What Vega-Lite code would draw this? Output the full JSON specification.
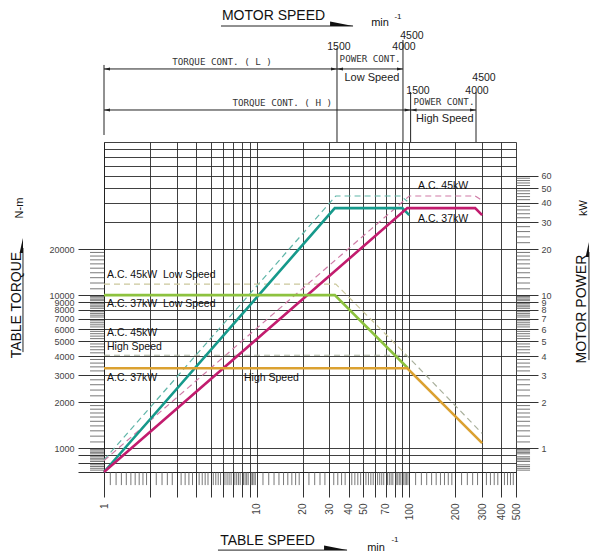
{
  "$schema": "https://vega.github.io/schema/vega-lite/v6.json",
  "width": 412,
  "height": 330,
  "autosize": "none",
  "padding": {"left": 104, "top": 142, "right": 75, "bottom": 84},
  "background": "white",
  "config": {
    "view": {"stroke": null},
    "font": "Liberation Sans",
    "axis": {"labelFont": "Liberation Sans", "labelFontSize": 10, "labelColor": "#444", "domainColor": "#222", "tickColor": "#333", "gridColor": "#2b2b2b", "gridOpacity": 1, "gridWidth": 0.9, "labelOverlap": false, "labelBound": false, "labelFlush": false}
  },
  "datasets": {
    "curves": [
      {"s": "teal37", "x": 1, "y": 700}, {"s": "teal37", "x": 32.5, "y": 37000}, {"s": "teal37", "x": 90, "y": 37000}, {"s": "teal37", "x": 100, "y": 33300},
      {"s": "mag37", "x": 1, "y": 700}, {"s": "mag37", "x": 97, "y": 37000}, {"s": "mag37", "x": 270, "y": 37000}, {"s": "mag37", "x": 300, "y": 33300},
      {"s": "green37", "x": 1, "y": 10000}, {"s": "green37", "x": 32.5, "y": 10000}, {"s": "green37", "x": 98, "y": 3330},
      {"s": "orange37", "x": 1, "y": 3330}, {"s": "orange37", "x": 97, "y": 3330}, {"s": "orange37", "x": 300, "y": 1080}
    ],
    "dashed": [
      {"s": "teal45", "x": 1, "y": 840}, {"s": "teal45", "x": 33, "y": 44400}, {"s": "teal45", "x": 88, "y": 44400}, {"s": "teal45", "x": 97, "y": 41000},
      {"s": "mag45", "x": 1, "y": 830}, {"s": "mag45", "x": 100, "y": 44400}, {"s": "mag45", "x": 270, "y": 44400}, {"s": "mag45", "x": 300, "y": 41500},
      {"s": "green45", "x": 1, "y": 11800}, {"s": "green45", "x": 33, "y": 11800}, {"s": "green45", "x": 96, "y": 4050},
      {"s": "orange45", "x": 1, "y": 4050}, {"s": "orange45", "x": 96, "y": 4050}, {"s": "orange45", "x": 300, "y": 1250}
    ],
    "segs": [
      {"x": 1, "y": 299900, "x2": 33.6, "y2": 299900},
      {"x": 33.6, "y": 299900, "x2": 90.9, "y2": 299900},
      {"x": 1, "y": 161800, "x2": 102, "y2": 161800},
      {"x": 102, "y": 161800, "x2": 273.5, "y2": 161800},
      {"x": 1, "y": 318500, "x2": 1, "y2": 111100},
      {"x": 33.6, "y": 411200, "x2": 33.6, "y2": 100000},
      {"x": 90.9, "y": 463700, "x2": 90.9, "y2": 100000},
      {"x": 102, "y": 212100, "x2": 102, "y2": 100000},
      {"x": 273.5, "y": 212100, "x2": 273.5, "y2": 100000},
      {"x": 5.84, "y": 572000, "x2": 42.8, "y2": 572000},
      {"x": 5.58, "y": 216.3, "x2": 39.1, "y2": 216.3},
      {"x": 0.2946, "y": 4245, "x2": 0.2946, "y2": 20320},
      {"x": 1503, "y": 3767, "x2": 1503, "y2": 19120}
    ],
    "arrowR": [{"x": 33.6, "y": 299900}, {"x": 90.9, "y": 299900}, {"x": 102, "y": 161800}, {"x": 273.5, "y": 161800}],
    "arrowL": [{"x": 1, "y": 299900}, {"x": 33.6, "y": 299900}, {"x": 1, "y": 161800}, {"x": 102, "y": 161800}],
    "wedgeH": [{"x": 42.8, "y": 572000}, {"x": 39.1, "y": 216.3}],
    "wedgeV": [{"x": 0.2946, "y": 23600}, {"x": 1503, "y": 22230}],
    "titlesH": [{"x": 12.9, "y": 665000, "t": "MOTOR SPEED"}, {"x": 11.78, "y": 247.7, "t": "TABLE SPEED"}],
    "titlesV": [{"x": 0.269, "y": 8612, "t": "TABLE TORQUE"}, {"x": 1352, "y": 8110, "t": "MOTOR POWER"}],
    "unitsV": [{"x": 0.282, "y": 37070, "t": "N-m"}, {"x": 1395, "y": 37070, "t": "kW"}],
    "mins": [{"x": 64.3, "y": 598000, "t": "min"}, {"x": 60.5, "y": 222.8, "t": "min"}],
    "sups": [{"x": 84.3, "y": 655000, "t": "-1"}, {"x": 80.6, "y": 251.3, "t": "-1"}],
    "rpm": [
      {"x": 34.6, "y": 417400, "t": "1500"}, {"x": 92.3, "y": 417400, "t": "4000"}, {"x": 104, "y": 492600, "t": "4500"},
      {"x": 114, "y": 215300, "t": "1500"}, {"x": 277.6, "y": 215300, "t": "4000"}, {"x": 308.5, "y": 261800, "t": "4500"}
    ],
    "speedTags": [{"x": 56.9, "y": 261800, "t": "Low Speed"}, {"x": 171, "y": 141300, "t": "High Speed"}],
    "mono": [
      {"x": 5.93, "y": 334600, "t": "TORQUE CONT. ( L )"}, {"x": 14.7, "y": 179800, "t": "TORQUE CONT. ( H )"},
      {"x": 55.3, "y": 348400, "t": "POWER CONT."}, {"x": 168.8, "y": 182500, "t": "POWER CONT."}
    ],
    "notes": [
      {"x": 1.046, "y": 13520, "t": "A.C. 45kW\u00a0 Low Speed"},
      {"x": 1.046, "y": 8750, "t": "A.C. 37kW\u00a0 Low Speed"},
      {"x": 1.046, "y": 5655, "t": "A.C. 45kW"},
      {"x": 1.046, "y": 4580, "t": "High Speed"},
      {"x": 1.046, "y": 2874, "t": "A.C. 37kW"},
      {"x": 8.26, "y": 2874, "t": "High Speed"},
      {"x": 114, "y": 51600, "t": "A.C. 45kW"},
      {"x": 114, "y": 31400, "t": "A.C. 37kW"}
    ],
    "bottomMinor": [
      {"v": 1.1}, {"v": 1.2}, {"v": 1.3}, {"v": 1.4}, {"v": 1.5}, {"v": 1.6}, {"v": 1.7}, {"v": 1.8}, {"v": 1.9},
      {"v": 2.2}, {"v": 2.4}, {"v": 2.6}, {"v": 2.8}, {"v": 3.2}, {"v": 3.4}, {"v": 3.6}, {"v": 3.8}, {"v": 4.2}, {"v": 4.4}, {"v": 4.6}, {"v": 4.8},
      {"v": 5.2}, {"v": 5.4}, {"v": 5.6}, {"v": 5.8}, {"v": 6.2}, {"v": 6.4}, {"v": 6.6}, {"v": 6.8}, {"v": 7.2}, {"v": 7.4}, {"v": 7.6}, {"v": 7.8},
      {"v": 8.2}, {"v": 8.4}, {"v": 8.6}, {"v": 8.8}, {"v": 9.2}, {"v": 9.4}, {"v": 9.6}, {"v": 9.8},
      {"v": 11}, {"v": 12}, {"v": 13}, {"v": 14}, {"v": 15}, {"v": 16}, {"v": 17}, {"v": 18}, {"v": 19},
      {"v": 22}, {"v": 24}, {"v": 26}, {"v": 28}, {"v": 32}, {"v": 34}, {"v": 36}, {"v": 38}, {"v": 42}, {"v": 44}, {"v": 46}, {"v": 48},
      {"v": 52}, {"v": 54}, {"v": 56}, {"v": 58}, {"v": 62}, {"v": 64}, {"v": 66}, {"v": 68}, {"v": 72}, {"v": 74}, {"v": 76}, {"v": 78},
      {"v": 82}, {"v": 84}, {"v": 86}, {"v": 88}, {"v": 92}, {"v": 94}, {"v": 96}, {"v": 98},
      {"v": 110}, {"v": 120}, {"v": 130}, {"v": 140}, {"v": 150}, {"v": 160}, {"v": 170}, {"v": 180}, {"v": 190},
      {"v": 220}, {"v": 240}, {"v": 260}, {"v": 280}, {"v": 320}, {"v": 340}, {"v": 360}, {"v": 380}, {"v": 420}, {"v": 440}, {"v": 460}, {"v": 480}
    ],
    "leftMinor": [
      {"v": 720}, {"v": 740}, {"v": 760}, {"v": 780}, {"v": 820}, {"v": 840}, {"v": 860}, {"v": 880}, {"v": 920}, {"v": 940}, {"v": 960}, {"v": 980},
      {"v": 1100}, {"v": 1200}, {"v": 1300}, {"v": 1400}, {"v": 1500}, {"v": 1600}, {"v": 1700}, {"v": 1800}, {"v": 1900},
      {"v": 2200}, {"v": 2400}, {"v": 2600}, {"v": 2800}, {"v": 3200}, {"v": 3400}, {"v": 3600}, {"v": 3800}, {"v": 4200}, {"v": 4400}, {"v": 4600}, {"v": 4800},
      {"v": 5200}, {"v": 5400}, {"v": 5600}, {"v": 5800}, {"v": 6200}, {"v": 6400}, {"v": 6600}, {"v": 6800}, {"v": 7200}, {"v": 7400}, {"v": 7600}, {"v": 7800},
      {"v": 8200}, {"v": 8400}, {"v": 8600}, {"v": 8800}, {"v": 9200}, {"v": 9400}, {"v": 9600}, {"v": 9800},
      {"v": 11000}, {"v": 12000}, {"v": 13000}, {"v": 14000}, {"v": 15000}, {"v": 16000}, {"v": 17000}, {"v": 18000}, {"v": 19000}
    ],
    "rightMinor": [
      {"v": 720}, {"v": 740}, {"v": 760}, {"v": 780}, {"v": 820}, {"v": 840}, {"v": 860}, {"v": 880}, {"v": 920}, {"v": 940}, {"v": 960}, {"v": 980},
      {"v": 1100}, {"v": 1200}, {"v": 1300}, {"v": 1400}, {"v": 1500}, {"v": 1600}, {"v": 1700}, {"v": 1800}, {"v": 1900},
      {"v": 2200}, {"v": 2400}, {"v": 2600}, {"v": 2800}, {"v": 3200}, {"v": 3400}, {"v": 3600}, {"v": 3800}, {"v": 4200}, {"v": 4400}, {"v": 4600}, {"v": 4800},
      {"v": 5200}, {"v": 5400}, {"v": 5600}, {"v": 5800}, {"v": 6200}, {"v": 6400}, {"v": 6600}, {"v": 6800}, {"v": 7200}, {"v": 7400}, {"v": 7600}, {"v": 7800},
      {"v": 8200}, {"v": 8400}, {"v": 8600}, {"v": 8800}, {"v": 9200}, {"v": 9400}, {"v": 9600}, {"v": 9800},
      {"v": 11000}, {"v": 12000}, {"v": 13000}, {"v": 14000}, {"v": 15000}, {"v": 16000}, {"v": 17000}, {"v": 18000}, {"v": 19000},
      {"v": 22000}, {"v": 24000}, {"v": 26000}, {"v": 28000}, {"v": 32000}, {"v": 34000}, {"v": 36000}, {"v": 38000},
      {"v": 42000}, {"v": 44000}, {"v": 46000}, {"v": 48000}, {"v": 52000}, {"v": 54000}, {"v": 56000}, {"v": 58000}
    ]
  },
  "layer": [
    {
      "layer": [
        {
          "data": {"name": "dashed"},
          "mark": {"type": "line", "strokeWidth": 1.2, "strokeDash": [6, 4]},
          "encoding": {
            "x": {"field": "x", "type": "quantitative", "scale": {"type": "log", "domain": [1, 500], "nice": false},
              "axis": {"values": [1, 2, 3, 4, 5, 6, 7, 8, 9, 10, 20, 30, 40, 50, 60, 70, 80, 90, 100, 200, 300, 400, 500],
                "labelExpr": "indexof([1,10,20,30,40,50,70,100,200,300,400,500], datum.value) >= 0 ? format(datum.value, 'd') : ''",
                "labelAngle": -90, "labelPadding": 6, "tickSize": 25, "grid": true, "title": null}},
            "y": {"field": "y", "type": "quantitative", "scale": {"type": "log", "domain": [700, 100000], "nice": false},
              "axis": {"orient": "left", "values": [700, 800, 900, 1000, 2000, 3000, 4000, 5000, 6000, 7000, 8000, 9000, 10000, 20000, 30000, 40000, 50000, 60000, 70000, 80000, 90000, 100000],
                "labelExpr": "datum.value >= 1000 && datum.value <= 20000 ? format(datum.value, 'd') : ''",
                "tickSize": 26, "tickOpacity": {"condition": {"test": "datum.value <= 20000", "value": 1}, "value": 0},
                "labelPadding": 4, "labelFontSize": 9, "grid": true, "title": null}},
            "color": {"field": "s", "type": "nominal", "legend": null,
              "scale": {"domain": ["teal45", "mag45", "green45", "orange45", "teal37", "mag37", "green37", "orange37"],
                "range": ["#5fb5a8", "#cf7ba6", "#cbc89c", "#a9b09c", "#16998b", "#c21c6e", "#8dc23f", "#dba131"]}}
          }
        },
        {
          "data": {"name": "curves"},
          "mark": {"type": "line", "strokeWidth": 2.6},
          "encoding": {
            "x": {"field": "x", "type": "quantitative", "scale": {"type": "log", "domain": [1, 500], "nice": false}},
            "y": {"field": "y", "type": "quantitative", "scale": {"type": "log", "domain": [700, 100000], "nice": false}},
            "color": {"field": "s", "type": "nominal", "legend": null}
          }
        },
        {
          "data": {"name": "segs"},
          "mark": {"type": "rule", "color": "#222", "strokeWidth": 1},
          "encoding": {
            "x": {"field": "x", "type": "quantitative", "scale": {"type": "log", "domain": [1, 500], "nice": false}},
            "x2": {"field": "x2"},
            "y": {"field": "y", "type": "quantitative", "scale": {"type": "log", "domain": [700, 100000], "nice": false}},
            "y2": {"field": "y2"}
          }
        },
        {
          "data": {"name": "bottomMinor"},
          "mark": {"type": "rule", "color": "#555", "strokeWidth": 0.8},
          "encoding": {
            "x": {"field": "v", "type": "quantitative", "scale": {"type": "log", "domain": [1, 500], "nice": false}},
            "y": {"datum": 700, "type": "quantitative", "scale": {"type": "log", "domain": [700, 100000], "nice": false}},
            "y2": {"datum": 575}
          }
        },
        {
          "data": {"name": "leftMinor"},
          "mark": {"type": "rule", "color": "#555", "strokeWidth": 0.8},
          "encoding": {
            "y": {"field": "v", "type": "quantitative", "scale": {"type": "log", "domain": [700, 100000], "nice": false}},
            "x": {"datum": 0.81, "type": "quantitative", "scale": {"type": "log", "domain": [1, 500], "nice": false}},
            "x2": {"datum": 1}
          }
        },
        {
          "data": {"name": "arrowR"},
          "mark": {"type": "point", "shape": "M0,0L-2,-0.5L-2,0.5Z", "size": 36, "filled": true, "color": "#222", "opacity": 1},
          "encoding": {
            "x": {"field": "x", "type": "quantitative", "scale": {"type": "log", "domain": [1, 500], "nice": false}},
            "y": {"field": "y", "type": "quantitative", "scale": {"type": "log", "domain": [700, 100000], "nice": false}}
          }
        },
        {
          "data": {"name": "arrowL"},
          "mark": {"type": "point", "shape": "M0,0L2,-0.5L2,0.5Z", "size": 36, "filled": true, "color": "#222", "opacity": 1},
          "encoding": {
            "x": {"field": "x", "type": "quantitative", "scale": {"type": "log", "domain": [1, 500], "nice": false}},
            "y": {"field": "y", "type": "quantitative", "scale": {"type": "log", "domain": [700, 100000], "nice": false}}
          }
        },
        {
          "data": {"name": "wedgeH"},
          "mark": {"type": "point", "shape": "M0,0L-2,0L-2,-0.4Z", "size": 529, "filled": true, "color": "#111", "opacity": 1},
          "encoding": {
            "x": {"field": "x", "type": "quantitative", "scale": {"type": "log", "domain": [1, 500], "nice": false}},
            "y": {"field": "y", "type": "quantitative", "scale": {"type": "log", "domain": [700, 100000], "nice": false}}
          }
        },
        {
          "data": {"name": "wedgeV"},
          "mark": {"type": "point", "shape": "M0,0L0,2L-0.45,2Z", "size": 225, "filled": true, "color": "#111", "opacity": 1},
          "encoding": {
            "x": {"field": "x", "type": "quantitative", "scale": {"type": "log", "domain": [1, 500], "nice": false}},
            "y": {"field": "y", "type": "quantitative", "scale": {"type": "log", "domain": [700, 100000], "nice": false}}
          }
        },
        {
          "data": {"name": "titlesH"},
          "mark": {"type": "text", "fontSize": 14, "font": "Liberation Sans", "color": "#111"},
          "encoding": {
            "x": {"field": "x", "type": "quantitative", "scale": {"type": "log", "domain": [1, 500], "nice": false}},
            "y": {"field": "y", "type": "quantitative", "scale": {"type": "log", "domain": [700, 100000], "nice": false}},
            "text": {"field": "t"}
          }
        },
        {
          "data": {"name": "titlesV"},
          "mark": {"type": "text", "fontSize": 14, "angle": 270, "font": "Liberation Sans", "color": "#111"},
          "encoding": {
            "x": {"field": "x", "type": "quantitative", "scale": {"type": "log", "domain": [1, 500], "nice": false}},
            "y": {"field": "y", "type": "quantitative", "scale": {"type": "log", "domain": [700, 100000], "nice": false}},
            "text": {"field": "t"}
          }
        },
        {
          "data": {"name": "unitsV"},
          "mark": {"type": "text", "fontSize": 11, "angle": 270, "font": "Liberation Sans", "color": "#111"},
          "encoding": {
            "x": {"field": "x", "type": "quantitative", "scale": {"type": "log", "domain": [1, 500], "nice": false}},
            "y": {"field": "y", "type": "quantitative", "scale": {"type": "log", "domain": [700, 100000], "nice": false}},
            "text": {"field": "t"}
          }
        },
        {
          "data": {"name": "mins"},
          "mark": {"type": "text", "fontSize": 11, "font": "Liberation Sans", "color": "#111"},
          "encoding": {
            "x": {"field": "x", "type": "quantitative", "scale": {"type": "log", "domain": [1, 500], "nice": false}},
            "y": {"field": "y", "type": "quantitative", "scale": {"type": "log", "domain": [700, 100000], "nice": false}},
            "text": {"field": "t"}
          }
        },
        {
          "data": {"name": "sups"},
          "mark": {"type": "text", "fontSize": 8, "font": "Liberation Sans", "color": "#111"},
          "encoding": {
            "x": {"field": "x", "type": "quantitative", "scale": {"type": "log", "domain": [1, 500], "nice": false}},
            "y": {"field": "y", "type": "quantitative", "scale": {"type": "log", "domain": [700, 100000], "nice": false}},
            "text": {"field": "t"}
          }
        },
        {
          "data": {"name": "rpm"},
          "mark": {"type": "text", "fontSize": 10.5, "font": "Liberation Sans", "color": "#222"},
          "encoding": {
            "x": {"field": "x", "type": "quantitative", "scale": {"type": "log", "domain": [1, 500], "nice": false}},
            "y": {"field": "y", "type": "quantitative", "scale": {"type": "log", "domain": [700, 100000], "nice": false}},
            "text": {"field": "t"}
          }
        },
        {
          "data": {"name": "speedTags"},
          "mark": {"type": "text", "fontSize": 11, "font": "Liberation Sans", "color": "#222"},
          "encoding": {
            "x": {"field": "x", "type": "quantitative", "scale": {"type": "log", "domain": [1, 500], "nice": false}},
            "y": {"field": "y", "type": "quantitative", "scale": {"type": "log", "domain": [700, 100000], "nice": false}},
            "text": {"field": "t"}
          }
        },
        {
          "data": {"name": "mono"},
          "mark": {"type": "text", "fontSize": 9.2, "font": "DejaVu Sans Mono", "color": "#333"},
          "encoding": {
            "x": {"field": "x", "type": "quantitative", "scale": {"type": "log", "domain": [1, 500], "nice": false}},
            "y": {"field": "y", "type": "quantitative", "scale": {"type": "log", "domain": [700, 100000], "nice": false}},
            "text": {"field": "t"}
          }
        },
        {
          "data": {"name": "notes"},
          "mark": {"type": "text", "fontSize": 10.5, "font": "Liberation Sans", "color": "#111", "align": "left"},
          "encoding": {
            "x": {"field": "x", "type": "quantitative", "scale": {"type": "log", "domain": [1, 500], "nice": false}},
            "y": {"field": "y", "type": "quantitative", "scale": {"type": "log", "domain": [700, 100000], "nice": false}},
            "text": {"field": "t"}
          }
        }
      ]
    },
    {
      "data": {"name": "rightMinor"},
      "mark": {"type": "rule", "color": "#555", "strokeWidth": 0.8},
      "encoding": {
        "y": {"field": "v", "type": "quantitative", "scale": {"type": "log", "domain": [700, 100000], "nice": false},
          "axis": {"orient": "right", "values": [1000, 2000, 3000, 4000, 5000, 6000, 7000, 8000, 9000, 10000, 20000, 30000, 40000, 50000, 60000],
            "labelExpr": "format(datum.value / 1000, 'd')", "tickSize": 22, "labelPadding": 3, "labelFontSize": 9, "grid": false, "domain": false, "title": null}},
        "x": {"datum": 500, "type": "quantitative", "scale": {"type": "log", "domain": [1, 500], "nice": false}},
        "x2": {"datum": 618}
      }
    }
  ],
  "resolve": {"scale": {"y": "independent"}}
}
